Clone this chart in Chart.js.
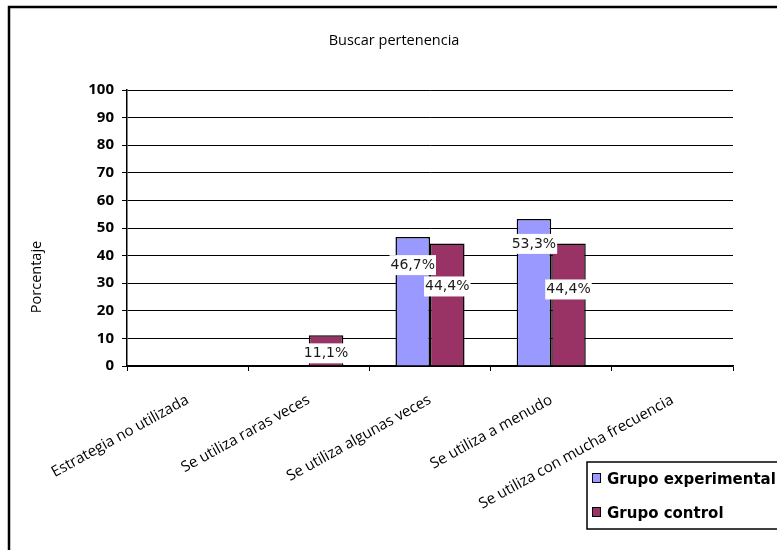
<!DOCTYPE html>
<html>
<head>
<meta charset="utf-8">
<title>Buscar pertenencia</title>
<script src="https://cdn.jsdelivr.net/npm/chart.js@4.4.0/dist/chart.umd.min.js"></script>
<style>
  html, body { margin: 0; padding: 0; background: #fff; overflow: hidden; }
  #grafico { display: block; }
</style>
</head>
<body>
<canvas id="grafico" width="777" height="550"></canvas>
<script>
// datos del gráfico
const categorias = [
  'Estrategia no utilizada',
  'Se utiliza raras veces',
  'Se utiliza algunas veces',
  'Se utiliza a menudo',
  'Se utiliza con mucha frecuencia'
];
const grupoExperimental = [0, 0, 46.7, 53.3, 0];
const grupoControl = [0, 11.1, 44.4, 44.4, 0];
const ticksY = [0, 10, 20, 30, 40, 50, 60, 70, 80, 90, 100];

const colorExperimental = '#9999ff';
const colorControl = '#993366';

const formatoPct = v => v.toFixed(1).replace('.', ',') + '%';

// marco exterior y fondo blanco
const marco = {
  id: 'marco',
  beforeDraw(chart) {
    const ctx = chart.ctx;
    ctx.save();
    ctx.fillStyle = '#fff';
    ctx.fillRect(0, 0, chart.width, chart.height);
    ctx.restore();
  },
  afterDraw(chart) {
    const ctx = chart.ctx;
    ctx.save();
    ctx.strokeStyle = '#000';
    ctx.lineWidth = 2.5;
    ctx.beginPath();
    ctx.moveTo(9, chart.height);
    ctx.lineTo(9, 7);
    ctx.lineTo(chart.width, 7);
    ctx.stroke();
    ctx.restore();
  }
};

// título del eje Y (centrado en el gráfico entero, no en el eje)
const tituloY = {
  id: 'tituloY',
  afterDraw(chart) {
    const ctx = chart.ctx;
    ctx.save();
    ctx.translate(37, 277);
    ctx.rotate(-Math.PI / 2);
    ctx.font = '14.5px "Open Sans"';
    ctx.fillStyle = '#000';
    ctx.textAlign = 'center';
    ctx.textBaseline = 'middle';
    ctx.fillText('Porcentaje', 0, 0);
    ctx.restore();
  }
};

// etiquetas de valor con fondo blanco; bajada = px por debajo del tope de la barra
const etiquetas = {
  id: 'etiquetas',
  afterDatasetsDraw(chart, args, opts) {
    const ctx = chart.ctx;
    ctx.save();
    ctx.font = '14px "DejaVu Sans"';
    ctx.textAlign = 'center';
    ctx.textBaseline = 'middle';
    chart.data.datasets.forEach((ds, i) => {
      const meta = chart.getDatasetMeta(i);
      meta.data.forEach((bar, j) => {
        const v = ds.data[j];
        if (!v) return;
        const txt = formatoPct(v);
        const y = bar.y + opts.bajada[i][j];
        const w = ctx.measureText(txt).width + 2;
        ctx.fillStyle = '#fff';
        ctx.fillRect(bar.x - w / 2, y - 10, w, 20);
        ctx.fillStyle = '#1a1a1a';
        ctx.fillText(txt, bar.x, y);
      });
    });
    ctx.restore();
  }
};

// leyenda en recuadro, abajo a la derecha
const leyenda = {
  id: 'leyenda',
  afterDraw(chart) {
    const ctx = chart.ctx;
    ctx.save();
    ctx.strokeStyle = '#000';
    ctx.lineWidth = 1.5;
    ctx.strokeRect(587, 462, 210, 67);
    ctx.font = 'bold 15px "DejaVu Sans"';
    ctx.textBaseline = 'alphabetic';
    ctx.textAlign = 'left';
    chart.data.datasets.forEach((ds, i) => {
      const y = 473 + i * 34;
      ctx.fillStyle = ds.backgroundColor;
      ctx.fillRect(592, y, 8, 9);
      ctx.lineWidth = 1;
      ctx.strokeRect(592.5, y + 0.5, 8, 9);
      ctx.fillStyle = '#000';
      ctx.fillText(ds.label, 607, y + 11);
    });
    ctx.restore();
  }
};

new Chart(document.getElementById('grafico'), {
  type: 'bar',
  data: {
    labels: categorias,
    datasets: [
      {
        label: 'Grupo experimental',
        data: grupoExperimental,
        backgroundColor: colorExperimental,
        borderColor: '#000',
        borderWidth: 1.5
      },
      {
        label: 'Grupo control',
        data: grupoControl,
        backgroundColor: colorControl,
        borderColor: '#000',
        borderWidth: 1.5
      }
    ]
  },
  options: {
    responsive: false,
    animation: false,
    devicePixelRatio: 1,
    layout: { padding: { left: 55, right: 44, top: 0, bottom: 0 } },
    datasets: { bar: { categoryPercentage: 0.57, barPercentage: 1 } },
    plugins: {
      legend: { display: false },
      tooltip: { enabled: false },
      title: {
        display: true,
        text: 'Buscar pertenencia',
        color: '#000',
        font: { family: 'Open Sans', size: 14.5, weight: 'normal' },
        padding: { top: 32, bottom: 40.6 }
      },
      etiquetas: {
        bajada: [
          [0, 0, 28, 25, 0],
          [0, 18, 43, 46, 0]
        ]
      }
    },
    scales: {
      x: {
        afterFit(scale) { scale.height = 184; },
        grid: {
          drawOnChartArea: false,
          drawTicks: true,
          tickLength: 5,
          color: '#000',
          offset: true
        },
        border: { display: true, color: '#000', width: 1.5 },
        ticks: {
          color: '#000',
          font: { family: 'Open Sans', size: 15 },
          minRotation: 29,
          maxRotation: 29,
          autoSkip: false,
          padding: 20
        }
      },
      y: {
        min: 0,
        max: 100,
        afterFit(scale) { scale.width = 72; },
        afterBuildTicks(scale) { scale.ticks = ticksY.map(v => ({ value: v })); },
        grid: { color: '#000', lineWidth: 1, tickLength: 5, tickColor: '#000' },
        border: { display: true, color: '#000', width: 1.5 },
        ticks: {
          color: '#000',
          font: { family: 'Open Sans', size: 15, weight: 'bold' },
          padding: 8
        }
      }
    }
  },
  plugins: [marco, tituloY, etiquetas, leyenda]
});
</script>
</body>
</html>
